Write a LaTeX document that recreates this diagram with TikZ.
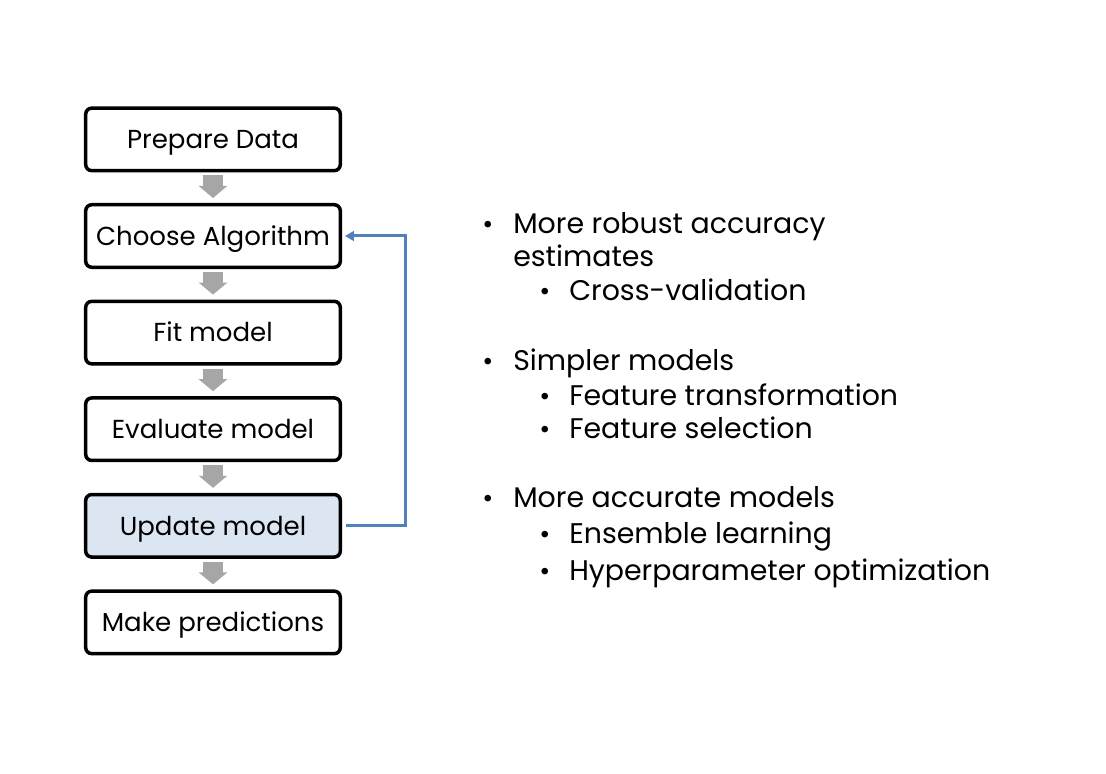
\documentclass[tikz,border=0pt]{standalone}
\usepackage{fontspec}
\setmainfont{Poppins}
\usetikzlibrary{arrows.meta}
\definecolor{stepgray}{HTML}{A6A6A6}
\definecolor{loopblue}{HTML}{4F81BD}
\definecolor{updatefill}{HTML}{DCE6F2}
\begin{document}
\begin{tikzpicture}[x=0.025cm,y=-0.025cm,
  stepbox/.style={draw,line width=0.0875cm,rounded corners=0.15cm,fill=white,
    minimum width=6.3625cm,minimum height=1.5625cm,text height=0.46cm,text depth=0cm,
    font=\fontsize{18.5}{22}\selectfont},
  stepflow/.style={stepgray,line width=0.475cm,shorten <=0.075cm,shorten >=0.125cm,
    -{Triangle[width=0.7cm,length=0.3cm]}},
  feedback/.style={loopblue,line width=0.075cm,shorten <=0.1cm,shorten >=0.075cm,
    -{Triangle[width=0.24cm,length=0.22cm]}},
  bulletmark/.style={anchor=base west,inner sep=0pt,font=\fontsize{19}{23}\selectfont},
  itemtext/.style={anchor=base west,inner sep=0pt,font=\fontsize{20.2}{24}\selectfont}]
\useasboundingbox[fill=white] (0,0) rectangle (1106,774) ;
% steps
\node[stepbox] (prepare)  at (213,139.4) {Prepare Data} ;
\node[stepbox] (choose)   at (213,236)   {Choose Algorithm} ;
\node[stepbox] (fit)      at (213,332.6) {Fit model} ;
\node[stepbox] (evaluate) at (213,429.2) {Evaluate model} ;
\node[stepbox,fill=updatefill] (update) at (213,525.8) {Update model} ;
\node[stepbox] (predict)  at (213,622.4) {Make predictions} ;
\draw[stepflow] (prepare)  -- (choose) ;
\draw[stepflow] (choose)   -- (fit) ;
\draw[stepflow] (fit)      -- (evaluate) ;
\draw[stepflow] (evaluate) -- (update) ;
\draw[stepflow] (update)   -- (predict) ;
\coordinate (loopcorner) at (405,525.8) ;
\draw[feedback] (update.east) -- (loopcorner) |- (choose.east) ;
% improvements
\node[bulletmark] (b1)  at (482,234) {•} ;
\node[itemtext]   (t1)  at (513,234) {More robust accuracy} ;
\node[itemtext]   (t1b) at (513,267) {estimates} ;
\node[bulletmark] (b11) at (539,301) {•} ;
\node[itemtext]   (t11) at (569,301) {Cross-validation} ;
\node[bulletmark] (b2)  at (482,371) {•} ;
\node[itemtext]   (t2)  at (513,371) {Simpler models} ;
\node[bulletmark] (b21) at (539,405) {•} ;
\node[itemtext]   (t21) at (569,405) {Feature transformation} ;
\node[bulletmark] (b22) at (539,439) {•} ;
\node[itemtext]   (t22) at (569,439) {Feature selection} ;
\node[bulletmark] (b3)  at (482,507) {•} ;
\node[itemtext]   (t3)  at (513,507) {More accurate models} ;
\node[bulletmark] (b31) at (539,543) {•} ;
\node[itemtext]   (t31) at (569,543) {Ensemble learning} ;
\node[bulletmark] (b32) at (539,580) {•} ;
\node[itemtext]   (t32) at (569,580) {Hyperparameter optimization} ;
\end{tikzpicture}
\end{document}
